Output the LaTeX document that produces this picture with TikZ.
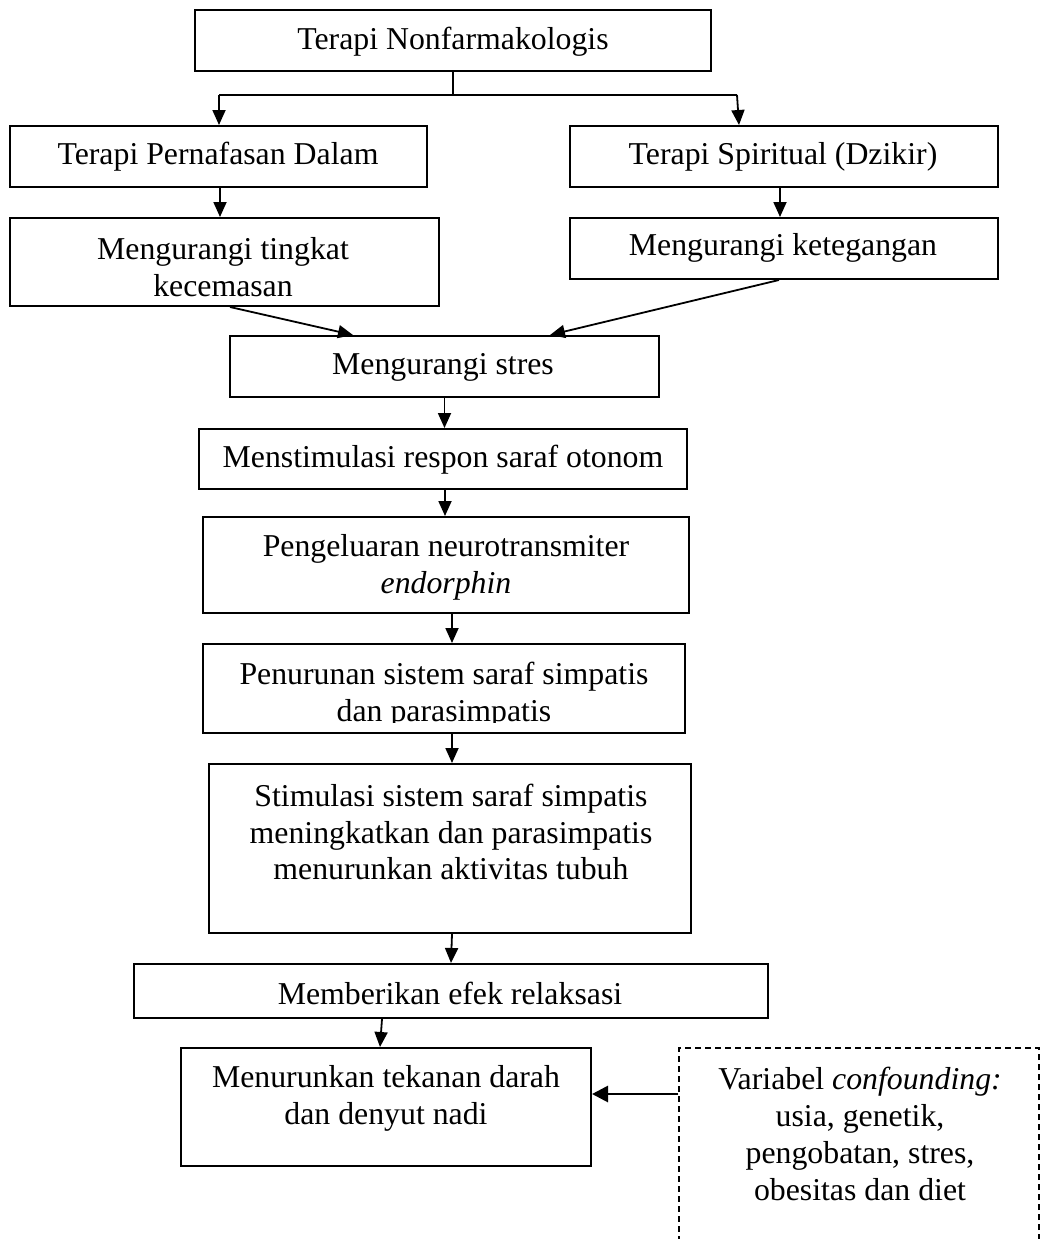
\documentclass[tikz,border=0pt]{standalone}
\usepackage{fontspec}
\setmainfont{Liberation Serif}
\usetikzlibrary{arrows.meta,calc}
\begin{document}
\begin{tikzpicture}[x=0.5pt,y=-0.5pt,
  bx/.style 2 args={draw, line width=1pt, inner sep=0pt, minimum width=#1*0.5pt, minimum height=#2*0.5pt},
  dbx/.style 2 args={draw, dash pattern=on 3pt off 2pt, line width=0.7pt, inner sep=0pt, minimum width=#1*0.5pt, minimum height=#2*0.5pt},
  txt/.style={align=center, inner sep=0pt, font=\fontsize{15.9}{18.4}\selectfont},
  conn/.style={line width=0.9pt},
  arr/.style={-{Triangle[length=7.5pt,width=6.5pt]}, line width=0.9pt},
  bigarr/.style={-{Triangle[length=8pt,width=8pt]}, line width=1.4pt}]
\useasboundingbox (0,0) rectangle (1041,1239);
\clip (0,0) rectangle (1041,1239);

% boxes
\node[bx={516}{61}] (b1) at (453,40.5) {};
\node[bx={417}{61}] (b2) at (218.5,156.5) {};
\node[bx={428}{61}] (b3) at (784,156.5) {};
\node[bx={429}{88}] (b4) at (224.5,262) {};
\node[bx={428}{61}] (b5) at (784,248.5) {};
\node[bx={429}{61}] (b6) at (444.5,366.5) {};
\node[bx={488}{60}] (b7) at (443,459) {};
\node[bx={486}{96}] (b8) at (446,565) {};
\node[bx={482}{89}] (b9) at (444,688.5) {};
\node[bx={482}{169}] (b10) at (450,848.5) {};
\node[bx={634}{54}] (b11) at (451,991) {};
\node[bx={410}{118}] (b12) at (386,1107) {};
\node[dbx={360}{212}] (b13) at (859,1154) {};

% texts
\node[txt] (t1) at (453,42) {Terapi Nonfarmakologis};
\node[txt] (t2) at (218,157) {Terapi Pernafasan Dalam};
\node[txt] (t3) at (783,157) {Terapi Spiritual (Dzikir)};
\node[txt] (t4) at (223,267) {Mengurangi tingkat\\kecemasan};
\node[txt] (t5) at (783,248) {Mengurangi ketegangan};
\node[txt] (t6) at (443,367) {Mengurangi stres};
\node[txt] (t7) at (443,460) {Menstimulasi respon saraf otonom};
\node[txt] (t8) at (446,567) {Pengeluaran neurotransmiter\\\textit{endorphin}};
\begin{scope}
\clip (205,646) rectangle (683,722);
\node[txt] (t9) at (444,695) {Penurunan sistem saraf simpatis\\dan parasimpatis};
\end{scope}
\node[txt] (t10) at (451,832) {Stimulasi sistem saraf simpatis\\meningkatkan dan parasimpatis\\menurunkan aktivitas tubuh};
\node[txt] (t11) at (450,993) {Memberikan efek relaksasi};
\node[txt] (t12) at (386,1098) {Menurunkan tekanan darah\\dan denyut nadi};
\node[txt] (t13) at (860,1134) {Variabel \textit{confounding:}\\usia, genetik,\\pengobatan, stres,\\obesitas dan diet};

% connectors
\coordinate (hl) at (219,95);
\coordinate (hr) at (737,95);
\draw[conn] (b1.south) -- (b1.south |- hl);
\draw[conn] (hl) -- (hr);
\draw[arr] (hl) -- (hl |- b2.north);
\draw[arr] (hr) -- ($(hr |- b3.north)+(2,0)$);
\draw[arr] ($(b2.south)+(1.5,0)$) -- ($(b2.south |- b4.north)+(1.5,0)$);
\draw[arr] ($(b3.south)+(-4,0)$) -- ($(b3.south |- b5.north)+(-4,0)$);
\draw[arr] ($(b4.south)+(5.5,0)$) -- ($(b6.north)+(-91.5,0)$);
\draw[arr] ($(b5.south)+(-5,0)$) -- ($(b6.north)+(105.5,0)$);
\draw[arr] (b6.south) -- (b6.south |- b7.north);
\draw[arr] ($(b7.south)+(2,0)$) -- ($(b7.south |- b8.north)+(2,0)$);
\draw[arr] ($(b8.south)+(6,0)$) -- ($(b8.south |- b9.north)+(6,0)$);
\draw[arr] ($(b9.south)+(8,0)$) -- ($(b9.south |- b10.north)+(8,0)$);
\draw[arr] ($(b10.south)+(2,0)$) -- (b11.north);
\draw[arr] ($(b11.south)+(-69,0)$) -- ($(b12.north)+(-6,0)$);
\coordinate (cf) at ($(b12.east)+(0,-13)$);
\draw[bigarr] (cf -| b13.west) -- (cf);
\end{tikzpicture}
\end{document}
